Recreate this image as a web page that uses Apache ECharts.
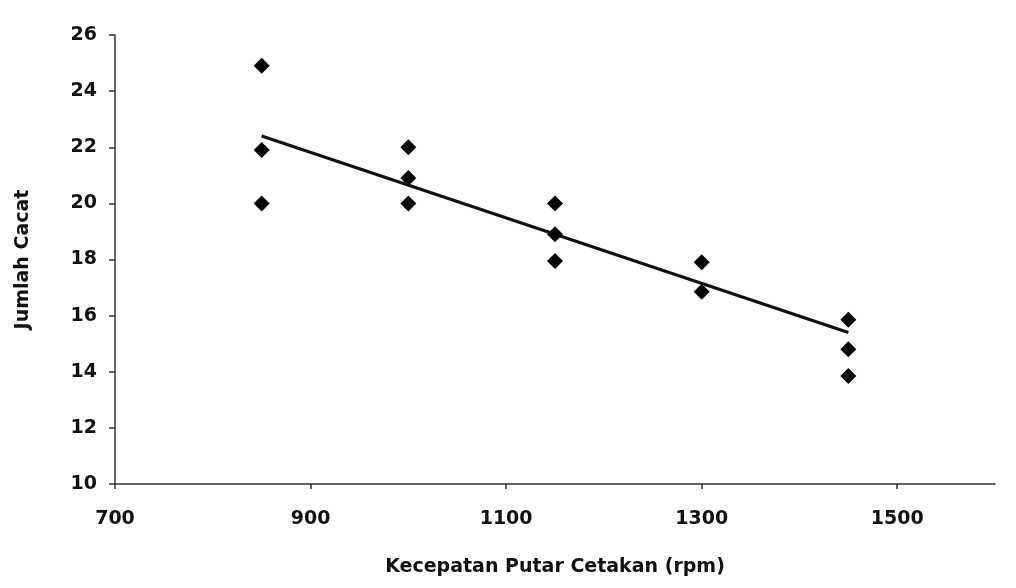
<!DOCTYPE html>
<html>
<head>
<meta charset="utf-8">
<title>Jumlah Cacat vs Kecepatan Putar Cetakan</title>
<script src="https://cdn.jsdelivr.net/npm/echarts@6/dist/echarts.min.js"></script>
<style>
  html, body { margin: 0; padding: 0; background: #fff; }
  #chart { width: 1016px; height: 588px; }
</style>
</head>
<body>
<div id="chart"></div>
<script>
// data
const speed = [850, 850, 850, 1000, 1000, 1000, 1150, 1150, 1150, 1300, 1300, 1450, 1450, 1450]
const defects = [24.9, 21.9, 20, 22, 20.9, 20, 20, 18.9, 17.95, 17.9, 16.85, 15.85, 14.8, 13.85]
// trend line end points
const trendX = [850, 1450]
const trendY = [22.4, 15.4]

const xTicks = [700, 900, 1100, 1300, 1500]

const font = 'DejaVu Sans'
const ink = '#111'

let mychart = echarts.init(document.getElementById('chart'))
let option = {
  backgroundColor: '#fff',
  animation: false,
  grid: {
    left: 115,
    right: 21,
    top: 35,
    bottom: 104,
  },
  xAxis: {
    type: 'value',
    min: 700,
    max: 1600,
    interval: 200,
    name: 'Kecepatan Putar Cetakan (rpm)',
    nameLocation: 'middle',
    nameGap: 74,
    nameTextStyle: {
      color: ink,
      fontFamily: font,
      fontWeight: 'bold',
      fontSize: 19,
    },
    axisLine: {
      onZero: false,
      lineStyle: { color: '#333', width: 1.5 },
    },
    axisTick: {
      show: true,
      length: 5,
      customValues: xTicks,
      lineStyle: { color: '#333', width: 1.5 },
    },
    axisLabel: {
      margin: 26,
      color: ink,
      fontFamily: font,
      fontWeight: 'bold',
      fontSize: 19,
      customValues: xTicks,
      formatter: (v) => String(v),
    },
    splitLine: { show: false },
  },
  yAxis: {
    type: 'value',
    min: 10,
    max: 26,
    interval: 2,
    name: 'Jumlah Cacat',
    nameLocation: 'middle',
    nameGap: 82,
    nameRotate: 90,
    nameTextStyle: {
      color: ink,
      fontFamily: font,
      fontWeight: 'bold',
      fontSize: 19,
    },
    axisLine: {
      show: true,
      lineStyle: { color: '#333', width: 1.5 },
    },
    axisTick: {
      show: true,
      length: 6,
      lineStyle: { color: '#333', width: 1.5 },
    },
    axisLabel: {
      margin: 18,
      color: ink,
      fontFamily: font,
      fontWeight: 'bold',
      fontSize: 19,
    },
    splitLine: { show: false },
  },
  series: [
    {
      name: 'Trend',
      type: 'line',
      data: trendX.map((x, i) => [x, trendY[i]]),
      symbol: 'none',
      lineStyle: { color: '#111', width: 3.2 },
      z: 2,
    },
    {
      name: 'Jumlah Cacat',
      type: 'scatter',
      data: speed.map((x, i) => [x, defects[i]]),
      symbol: 'diamond',
      symbolSize: 16,
      itemStyle: { color: '#050505', opacity: 1 },
      z: 3,
    },
  ],
}

mychart.setOption(option)
window.addEventListener('resize', () => {
  mychart.resize()
})
</script>
</body>
</html>
